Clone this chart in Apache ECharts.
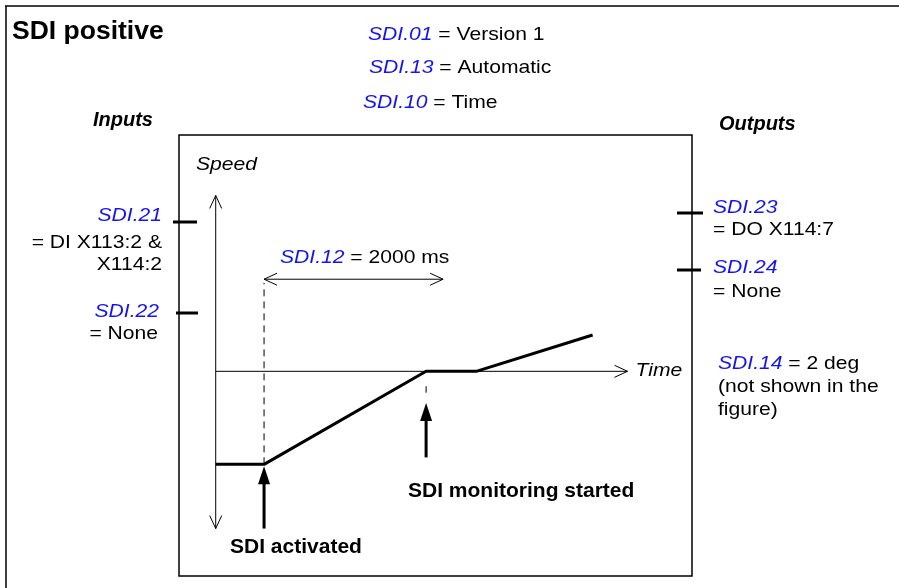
<!DOCTYPE html>
<html><head><meta charset="utf-8">
<script src="https://cdn.jsdelivr.net/npm/echarts@6/dist/echarts.min.js"></script>
<style>html,body{margin:0;padding:0;background:#fff}#c{width:899px;height:588px}</style>
</head><body><div id="c"></div>
<script>
// ---- data (time in s, speed relative) ----
const speedTime = [0, 0.54, 2.35, 2.91, 4.21];
const speedValue = [-1, -1, 0, 0, 0.39];
const activatedTime = 0.54;
const monitoringTime = 2.35;
const sdi12Seconds = 2.0;
const sdi12Level = 0.99;
const timeAxisEnd = 4.6;
const speedAxisTop = 1.89;
const speedAxisBottom = -1.69;
const settingCodes = ['SDI.01', 'SDI.13', 'SDI.10'];
const settingValues = ['Version 1', 'Automatic', 'Time'];
const inputCodes = ['SDI.21', 'SDI.22'];
const inputValues = [['= DI X113:2 &', 'X114:2'], ['= None']];
const outputCodes = ['SDI.23', 'SDI.24'];
const outputValues = [['= DO X114:7'], ['= None']];
const angleCode = 'SDI.14';
const angleText = ['= 2 deg', '(not shown in the', 'figure)'];
const sdi12Text = '= 2000 ms';

const FONT = '"Liberation Sans", Arial, sans-serif';
const BLUE = '#1414f0';
const FS = 19;
const SX = 1.11;
const DY = 1.5;

const chart = echarts.init(document.getElementById('c'), null, {renderer: 'canvas'});

function seg(data, w, dash) {
  return {type: 'line', data: data, symbol: 'none', silent: true, animation: false,
    lineStyle: {color: '#000', width: w, type: dash || 'solid'}, z: 2};
}

chart.setOption({
  animation: false,
  backgroundColor: '#fff',
  grid: {left: 179, top: 135, width: 513, height: 441, show: false},
  xAxis: {type: 'value', min: -0.41, max: 5.32, show: false},
  yAxis: {type: 'value', min: -2.2, max: 2.54, show: false},
  series: [
    seg(speedTime.map((t, i) => [t, speedValue[i]]), 3),
    seg([[0, 0], [timeAxisEnd, 0]], 1),
    seg([[0, speedAxisBottom], [0, speedAxisTop]], 1),
    seg([[activatedTime, speedValue[0]], [activatedTime, sdi12Level - 0.04]], 1, [7, 5]),
    seg([[monitoringTime, -0.16], [monitoringTime, -0.23]], 1),
    seg([[activatedTime, sdi12Level], [activatedTime + sdi12Seconds, sdi12Level]], 1)
  ]
});

function P(t, v) { return chart.convertToPixel({gridIndex: 0}, [t, v]); }

const g = [];
function line(x1, y1, x2, y2, w) {
  g.push({type: 'line', shape: {x1, y1, x2, y2}, style: {stroke: '#000', lineWidth: w}, silent: true});
}
function chevron(tip, dir) { // open V arrowhead
  const L = 13, Wd = 6;
  let pts;
  if (dir === 'right') pts = [[tip[0] - L, tip[1] - Wd], tip, [tip[0] - L, tip[1] + Wd]];
  if (dir === 'left') pts = [[tip[0] + L, tip[1] - Wd], tip, [tip[0] + L, tip[1] + Wd]];
  if (dir === 'up') pts = [[tip[0] - Wd, tip[1] + L], tip, [tip[0] + Wd, tip[1] + L]];
  if (dir === 'down') pts = [[tip[0] - Wd, tip[1] - L], tip, [tip[0] + Wd, tip[1] - L]];
  g.push({type: 'polyline', shape: {points: pts}, style: {stroke: '#000', lineWidth: 1, fill: null}, silent: true});
}
function upArrow(tip, bottomY) {
  g.push({type: 'polygon', shape: {points: [[tip[0], tip[1]], [tip[0] - 6, tip[1] + 18], [tip[0] + 6, tip[1] + 18]]},
    style: {fill: '#000'}, silent: true});
  line(tip[0], tip[1] + 16, tip[0], bottomY, 3);
}
function text(x, y, str, opt) {
  opt = opt || {};
  const bold = opt.weight === 'bold';
  const size = opt.size || (bold ? 21 : FS);
  g.push({type: 'text', x: x, y: y + DY, scaleX: bold ? 1 : SX, silent: true, style: {
    text: str, fill: '#000', align: opt.align || 'left', verticalAlign: 'middle',
    font: (opt.style || 'normal') + ' ' + (opt.weight || 'normal') + ' ' + size + 'px ' + FONT,
    rich: {c: {fill: BLUE, fontStyle: 'italic', fontSize: size, fontFamily: FONT}}
  }});
}

// frame (top and left edges only)
line(5, 6, 899, 6, 1.5);
line(6, 6, 6, 588, 1.5);
g.push({type: 'rect', shape: {x: 179, y: 135, width: 513, height: 441}, style: {fill: null, stroke: '#000', lineWidth: 1.5}, silent: true});

// axis arrowheads
chevron(P(timeAxisEnd, 0), 'right');
chevron(P(0, speedAxisTop), 'up');
chevron(P(0, speedAxisBottom), 'down');
chevron(P(activatedTime, sdi12Level), 'left');
chevron(P(activatedTime + sdi12Seconds, sdi12Level), 'right');

// event arrows
const a1 = P(activatedTime, -1.02), a1b = P(activatedTime, speedAxisBottom);
upArrow(a1, a1b[1]);
const a2 = P(monitoringTime, -0.34), a2b = P(monitoringTime, -0.925);
upArrow(a2, a2b[1]);

// I/O ticks
line(173, 222, 197, 222, 3);
line(176, 313, 198, 313, 3);
line(677, 213, 703, 213, 3);
line(677, 270, 701, 270, 3);

// texts
text(12, 30, 'SDI positive', {weight: 'bold', size: 26.5});
const setY = [33, 66, 101], setX = [368, 369, 363];
settingCodes.forEach((c, i) => text(setX[i], setY[i], '{c|' + c + '} = ' + settingValues[i]));
text(93, 119, 'Inputs', {weight: 'bold', style: 'italic', size: 20});
text(719, 123, 'Outputs', {weight: 'bold', style: 'italic', size: 20});
text(196, 163, 'Speed', {style: 'italic'});
const tp = P(timeAxisEnd, 0);
text(tp[0] + 8, tp[1] - 2, 'Time', {style: 'italic'});

// inputs
text(162, 214, '{c|' + inputCodes[0] + '}', {align: 'right'});
text(162, 241, inputValues[0][0], {align: 'right'});
text(162, 263, inputValues[0][1], {align: 'right'});
text(159, 310, '{c|' + inputCodes[1] + '}', {align: 'right'});
text(158, 332, inputValues[1][0], {align: 'right'});

// outputs
text(713, 206, '{c|' + outputCodes[0] + '}');
text(713, 228, outputValues[0][0]);
text(713, 266, '{c|' + outputCodes[1] + '}');
text(713, 290, outputValues[1][0]);

text(718, 362, '{c|' + angleCode + '} ' + angleText[0]);
text(718, 385, angleText[1]);
text(718, 408, angleText[2]);

text(280, 256, '{c|SDI.12} ' + sdi12Text);
text(230, 546, 'SDI activated', {weight: 'bold'});
text(408, 490, 'SDI monitoring started', {weight: 'bold'});

chart.setOption({graphic: {elements: g}});
</script></body></html>
